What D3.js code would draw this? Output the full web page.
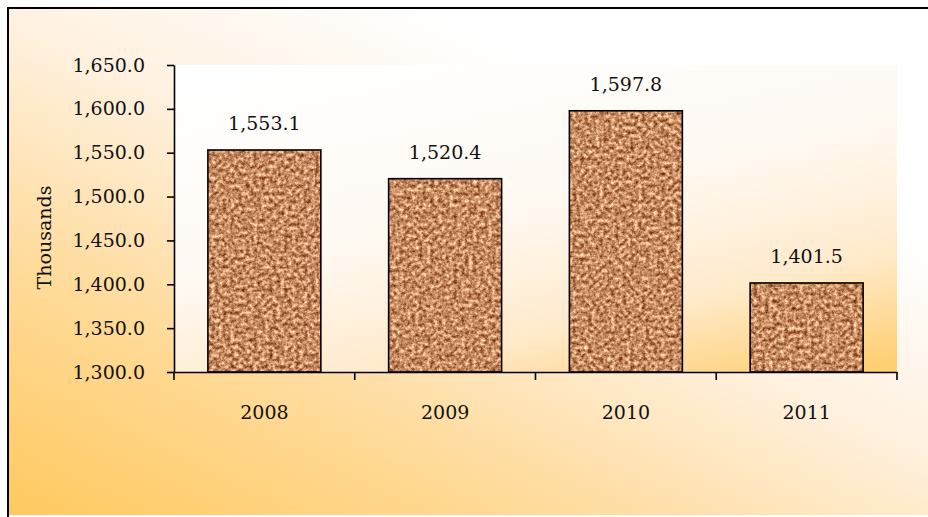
<!DOCTYPE html>
<html>
<head>
<meta charset="utf-8">
<script src="https://cdn.jsdelivr.net/npm/d3@7/dist/d3.min.js"></script>
<style>
  html, body { margin: 0; padding: 0; background: #fff; overflow: hidden; }
  svg { display: block; }
  text { font-family: "DejaVu Serif", "Liberation Serif", serif; fill: #111; }
</style>
</head>
<body>
<svg id="chart" width="928" height="517"></svg>
<script>
// Yearly totals, in thousands
const years = ["2008", "2009", "2010", "2011"];
const values = [1553.1, 1520.4, 1597.8, 1401.5];
const yTicks = [1300, 1350, 1400, 1450, 1500, 1550, 1600, 1650];
const yTitle = "Thousands";

const W = 928, H = 517;
const plot = { left: 174, right: 897, top: 65, bottom: 372 };

const svg = d3.select("#chart");
const defs = svg.append("defs");

// Chart-area wash: warm orange at lower left fading to white at upper right
const outer = defs.append("linearGradient").attr("id", "outerFill")
  .attr("x1", 0).attr("y1", 1).attr("x2", 0.8).attr("y2", 0.05);
outer.append("stop").attr("offset", 0).attr("stop-color", "#FFC95F");
outer.append("stop").attr("offset", 0.3).attr("stop-color", "#FFDA98");
outer.append("stop").attr("offset", 0.6).attr("stop-color", "#FFF1E0");
outer.append("stop").attr("offset", 0.85).attr("stop-color", "#FFFFFF");

// Plot-area wash: white at upper left, orange toward lower right
const inner = defs.append("linearGradient").attr("id", "innerFill")
  .attr("x1", 0.15).attr("y1", 0).attr("x2", 0.75).attr("y2", 1.1);
inner.append("stop").attr("offset", 0).attr("stop-color", "#FFFFFF");
inner.append("stop").attr("offset", 0.45).attr("stop-color", "#FFF9F2");
inner.append("stop").attr("offset", 0.75).attr("stop-color", "#FFEACB");
inner.append("stop").attr("offset", 1).attr("stop-color", "#FFCF72");

// Cork-like speckled texture for the bars
const cork = defs.append("filter").attr("id", "cork")
  .attr("x", 0).attr("y", 0).attr("width", 1).attr("height", 1)
  .attr("color-interpolation-filters", "sRGB");
cork.append("feTurbulence").attr("type", "fractalNoise")
  .attr("baseFrequency", 0.26).attr("numOctaves", 4).attr("seed", 11).attr("result", "noise");
cork.append("feColorMatrix").attr("in", "noise").attr("type", "matrix")
  .attr("values", [
    "0.95 0 0 0 0.30",
    "1.05 0 0 0 0.02",
    "0.95 0 0 0 -0.09",
    "0 0 0 0 1"
  ].join(" ")).attr("result", "tint");
cork.append("feComposite").attr("in", "tint").attr("in2", "SourceGraphic").attr("operator", "in");

// Background and frame
svg.append("rect").attr("x", 8).attr("y", 8).attr("width", W - 8).attr("height", H - 10)
  .attr("fill", "url(#outerFill)");
svg.append("rect").attr("x", plot.left).attr("y", plot.top)
  .attr("width", plot.right - plot.left).attr("height", plot.bottom - plot.top)
  .attr("fill", "url(#innerFill)");
svg.append("path").attr("d", `M8,${H + 5}V8H${W + 5}`)
  .attr("fill", "none").attr("stroke", "#000").attr("stroke-width", 2);

// Scales
const x = d3.scaleBand().domain(years).range([plot.left, plot.right])
  .paddingInner(0.375).paddingOuter(0.1875);
const y = d3.scaleLinear().domain([1300, 1650]).range([plot.bottom, plot.top]);

// Bars
const bars = svg.append("g");
bars.selectAll("rect.fillbar").data(years).join("rect")
  .attr("class", "fillbar")
  .attr("x", d => x(d)).attr("width", x.bandwidth())
  .attr("y", (d, i) => y(values[i])).attr("height", (d, i) => y(1300) - y(values[i]))
  .attr("fill", "#BE875F").attr("filter", "url(#cork)");
bars.selectAll("rect.edge").data(years).join("rect")
  .attr("class", "edge")
  .attr("x", d => x(d)).attr("width", x.bandwidth())
  .attr("y", (d, i) => y(values[i])).attr("height", (d, i) => y(1300) - y(values[i]))
  .attr("fill", "none").attr("stroke", "#000").attr("stroke-width", 1.6);

// Value labels
svg.append("g").selectAll("text").data(years).join("text")
  .attr("x", d => x(d) + x.bandwidth() / 2)
  .attr("y", (d, i) => y(values[i]) - 19.5)
  .attr("text-anchor", "middle").attr("font-size", 19)
  .text((d, i) => d3.format(",.1f")(values[i]));

// Y axis
const yAxis = svg.append("g").attr("transform", `translate(${plot.left},0)`)
  .call(d3.axisLeft(y).tickValues(yTicks).tickFormat(d3.format(",.1f"))
    .tickSize(7).tickSizeOuter(0).tickPadding(22));
yAxis.select(".domain").attr("stroke", "#000").attr("stroke-width", 1.6);
yAxis.selectAll(".tick line").attr("stroke", "#000").attr("stroke-width", 1.6);
yAxis.selectAll(".tick text").attr("font-size", 19).attr("font-family", null).attr("fill", "#111");

// X axis: category labels plus boundary tick marks
const xAxis = svg.append("g").attr("transform", `translate(0,${plot.bottom})`)
  .call(d3.axisBottom(x).tickSize(0).tickPadding(34).tickSizeOuter(0));
xAxis.select(".domain").attr("stroke", "#000").attr("stroke-width", 1.6);
xAxis.selectAll(".tick text").attr("font-size", 19).attr("font-family", null).attr("fill", "#111");
const edges = years.map(d => x(d) - x.step() * x.paddingOuter()).concat([plot.right]);
xAxis.selectAll("line.edge").data(edges).join("line")
  .attr("class", "edge")
  .attr("x1", d => d).attr("x2", d => d).attr("y1", 0).attr("y2", 8)
  .attr("stroke", "#000").attr("stroke-width", 1.6);

// Axis title
svg.append("text")
  .attr("transform", `translate(51,${(plot.top + plot.bottom) / 2 + 19}) rotate(-90)`)
  .attr("text-anchor", "middle").attr("font-size", 19)
  .text(yTitle);
</script>
</body>
</html>
